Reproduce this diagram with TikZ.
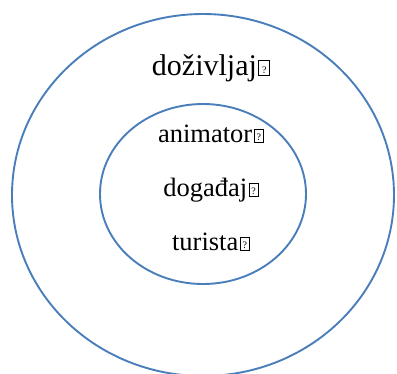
\documentclass[tikz,border=0pt]{standalone}
\usepackage{fontspec}
\setmainfont{Liberation Serif}
\usepackage{tikz}
\usetikzlibrary{shapes.geometric}

\definecolor{ringblue}{RGB}{74,126,187}

% little framed question mark after each word
\newcommand{\gapbox}[2]{\kern1.5pt{\setlength{\fboxsep}{0pt}\setlength{\fboxrule}{0.8pt}%
  \fbox{\makebox[#1]{\rule{0pt}{#2}\raisebox{2pt}{\fontsize{10}{10}\selectfont ?}}}}}

\begin{document}
\begin{tikzpicture}[
    x=1pt, y=-1pt,
    ring/.style={ellipse, draw=ringblue, line width=1.9pt, inner sep=0pt},
    word/.style={anchor=base, font=\fontsize{26.5}{30}\selectfont},
]
    \useasboundingbox (0,0) rectangle (397,373);

    % the two rings
    \node[ring, minimum width=382pt, minimum height=362pt] (outer) at (203,195) {};
    \node[ring, minimum width=206pt, minimum height=180pt] (inner) at (203,194) {};

    % labels
    \node[word, font=\fontsize{30}{34}\selectfont] (exp) at (211,75) {doživljaj\gapbox{10pt}{14pt}};
    \node[word] (anim) at (211,142) {animator\gapbox{8.5pt}{12pt}};
    \node[word] (event) at (211,196) {događaj\gapbox{8.5pt}{12pt}};
    \node[word] (tour) at (211,250) {turista\gapbox{8.5pt}{12pt}};
\end{tikzpicture}
\end{document}
